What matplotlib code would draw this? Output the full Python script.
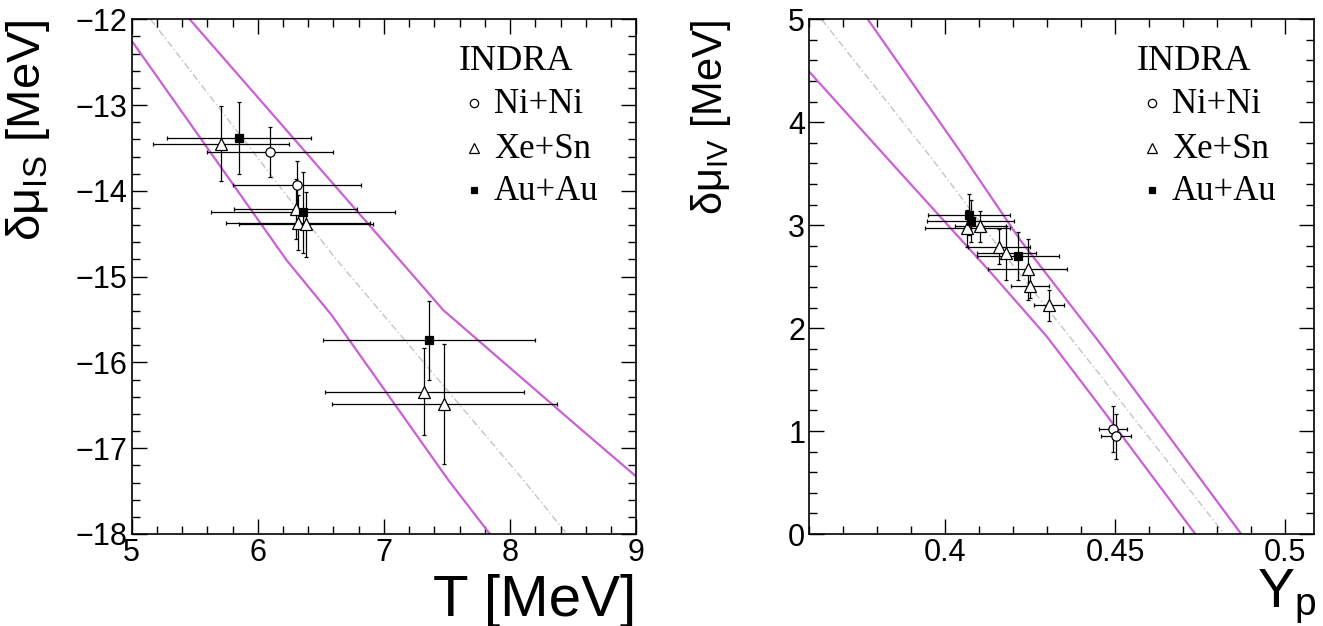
import numpy as np
import matplotlib
matplotlib.use('Agg')
import matplotlib.pyplot as plt
from matplotlib.ticker import MultipleLocator

plt.rcParams['font.family'] = ['Liberation Sans', 'DejaVu Sans']
plt.rcParams['mathtext.fontset'] = 'custom'
plt.rcParams['mathtext.rm'] = 'Liberation Sans'
plt.rcParams['mathtext.it'] = 'Liberation Sans'

# ---- left panel: delta mu_IS vs T ----
ni_T = [6.10, 6.31]
ni_T_err = [0.50, 0.51]
ni_mu_is = [-13.55, -13.93]
ni_is_err = [0.29, 0.28]

xe_T = [5.71, 6.30, 6.32, 6.38, 7.32, 7.48]
xe_T_err = [0.54, 0.49, 0.57, 0.53, 0.79, 0.89]
xe_mu_is = [-13.45, -14.21, -14.37, -14.39, -16.34, -16.48]
xe_is_err = [0.44, 0.35, 0.32, 0.38, 0.51, 0.70]

au_T = [5.85, 6.36, 7.36]
au_T_err = [0.57, 0.73, 0.84]
au_mu_is = [-13.38, -14.25, -15.74]
au_is_err = [0.42, 0.47, 0.46]

band_up_T = [5.46, 7.05, 7.47, 8.555, 9.0]
band_up_is = [-12.0, -14.68, -15.39, -16.77, -17.33]
band_lo_T = [5.0, 6.229, 6.586, 7.51, 7.84]
band_lo_is = [-12.25, -14.81, -15.45, -17.37, -18.0]
fit_T = [5.15, 6.6, 8.105, 8.45]
fit_is = [-12.0, -14.76, -17.37, -18.0]

# ---- right panel: delta mu_IV vs Yp ----
ni_Yp = [0.4493, 0.4502]
ni_Yp_err = [0.0040, 0.0045]
ni_mu_iv = [1.02, 0.95]
ni_iv_err = [0.22, 0.22]

xe_Yp = [0.4065, 0.4102, 0.4158, 0.4179, 0.4242, 0.4249, 0.4305]
xe_Yp_err = [0.0126, 0.0075, 0.0092, 0.0087, 0.0116, 0.0055, 0.0044]
xe_mu_iv = [2.97, 2.99, 2.79, 2.73, 2.57, 2.41, 2.22]
xe_iv_err = [0.18, 0.15, 0.17, 0.26, 0.30, 0.12, 0.15]

au_Yp = [0.4070, 0.4075, 0.4213]
au_Yp_err = [0.0120, 0.0128, 0.0120]
au_mu_iv = [3.10, 3.04, 2.70]
au_iv_err = [0.20, 0.20, 0.23]

band_up_Yp = [0.3772, 0.4043, 0.422, 0.4455, 0.4870]
band_up_iv = [5.0, 3.72, 2.857, 1.853, 0.0]
band_lo_Yp = [0.36, 0.3832, 0.4131, 0.4298, 0.4455, 0.4735]
band_lo_iv = [4.49, 3.64, 2.55, 1.92, 1.24, 0.0]
fit_Yp = [0.3636, 0.3955, 0.417, 0.4455, 0.4820]
fit_iv = [5.0, 3.67, 2.73, 1.545, 0.0]

legend_labels = ['Ni+Ni', 'Xe+Sn', 'Au+Au']

MAGENTA = '#cc5fd6'
W, H = 1323, 626


def style_axes(ax, xmaj, xmin, ymaj, ymin):
    ax.xaxis.set_major_locator(MultipleLocator(xmaj))
    ax.xaxis.set_minor_locator(MultipleLocator(xmin))
    ax.yaxis.set_major_locator(MultipleLocator(ymaj))
    ax.yaxis.set_minor_locator(MultipleLocator(ymin))
    ax.tick_params(which='both', direction='in', top=True, right=True,
                   width=1.0, labelsize=22, color='black')
    ax.tick_params(which='major', length=11, pad=3)
    ax.tick_params(which='minor', length=5.5)
    for s in ax.spines.values():
        s.set_linewidth(1.2)


def draw_points(ax, sets):
    for x, xe, y, ye, m, fc, ms in sets:
        ax.errorbar(x, y, xerr=xe, yerr=ye, fmt='none', ecolor='black',
                    elinewidth=0.9, capsize=1.6, capthick=0.9, zorder=3)
        ax.plot(x, y, linestyle='none', marker=m, ms=ms, mfc=fc,
                mec='black', mew=0.9, zorder=4)


def draw_legend(ax):
    ax.text(0.649, 0.9015, 'INDRA', transform=ax.transAxes, fontsize=26,
            family='Liberation Serif', va='baseline', ha='left')
    marks = [('o', 'white', 6), ('^', 'white', 7), ('s', 'black', 5)]
    ys_mark = [0.838, 0.749, 0.668]
    ys_text = [0.817, 0.730, 0.649]
    for (m, fc, ms), ym, yt, lab in zip(marks, ys_mark, ys_text, legend_labels):
        ax.plot([0.6785], [ym], marker=m, ms=ms, mfc=fc, mec='black', mew=0.9,
                transform=ax.transAxes, clip_on=False, linestyle='none')
        ax.text(0.718, yt, lab, transform=ax.transAxes, fontsize=25,
                family='Liberation Serif', va='baseline', ha='left')


fig = plt.figure(figsize=(W / 100, H / 100), dpi=100)
ax1 = fig.add_axes([131.7 / W, (H - 534) / H, 504.5 / W, 514.7 / H])
ax2 = fig.add_axes([809.3 / W, (H - 534) / H, 505 / W, 514.7 / H])

# left
ax1.plot(band_up_T, band_up_is, color=MAGENTA, lw=1.6, zorder=2)
ax1.plot(band_lo_T, band_lo_is, color=MAGENTA, lw=1.6, zorder=2)
ax1.plot(fit_T, fit_is, color='#c4c4c4', lw=1.0, linestyle=(0, (5, 2, 1, 2)), zorder=1)
draw_points(ax1, [(ni_T, ni_T_err, ni_mu_is, ni_is_err, 'o', 'white', 6.7),
                  (xe_T, xe_T_err, xe_mu_is, xe_is_err, '^', 'white', 9),
                  (au_T, au_T_err, au_mu_is, au_is_err, 's', 'black', 6)])
ax1.set_xlim(5, 9)
ax1.set_ylim(-18, -12)
style_axes(ax1, 1, 0.2, 1, 0.2)
ax1.set_xlabel('T [MeV]', fontsize=42, loc='right')
ax1.xaxis.set_label_coords(1.0, -0.078)
ax1.set_ylabel(r'δμ$_{\mathregular{IS}}$ [MeV]', fontsize=34, loc='top')
ax1.yaxis.set_label_coords(-0.158, 1.0)
draw_legend(ax1)

# right
ax2.plot(band_up_Yp, band_up_iv, color=MAGENTA, lw=1.6, zorder=2)
ax2.plot(band_lo_Yp, band_lo_iv, color=MAGENTA, lw=1.6, zorder=2)
ax2.plot(fit_Yp, fit_iv, color='#c4c4c4', lw=1.0, linestyle=(0, (5, 2, 1, 2)), zorder=1)
draw_points(ax2, [(ni_Yp, ni_Yp_err, ni_mu_iv, ni_iv_err, 'o', 'white', 6.7),
                  (xe_Yp, xe_Yp_err, xe_mu_iv, xe_iv_err, '^', 'white', 9),
                  (au_Yp, au_Yp_err, au_mu_iv, au_iv_err, 's', 'black', 6)])
ax2.set_xlim(0.36, 0.5085)
ax2.set_ylim(0, 5)
style_axes(ax2, 0.05, 0.01, 1, 0.2)
ax2.set_xticks([0.4, 0.45, 0.5])
ax2.set_xticklabels(['0.4', '0.45', '0.5'])
ax2.set_xlabel(r'Y$_{\mathregular{p}}$', fontsize=40, loc='right')
ax2.xaxis.set_label_coords(1.005, -0.066)
ax2.set_ylabel(r'δμ$_{\mathregular{IV}}$ [MeV]', fontsize=30, loc='top')
ax2.yaxis.set_label_coords(-0.151, 1.0)
draw_legend(ax2)

fig.savefig('out.png', dpi=100)
